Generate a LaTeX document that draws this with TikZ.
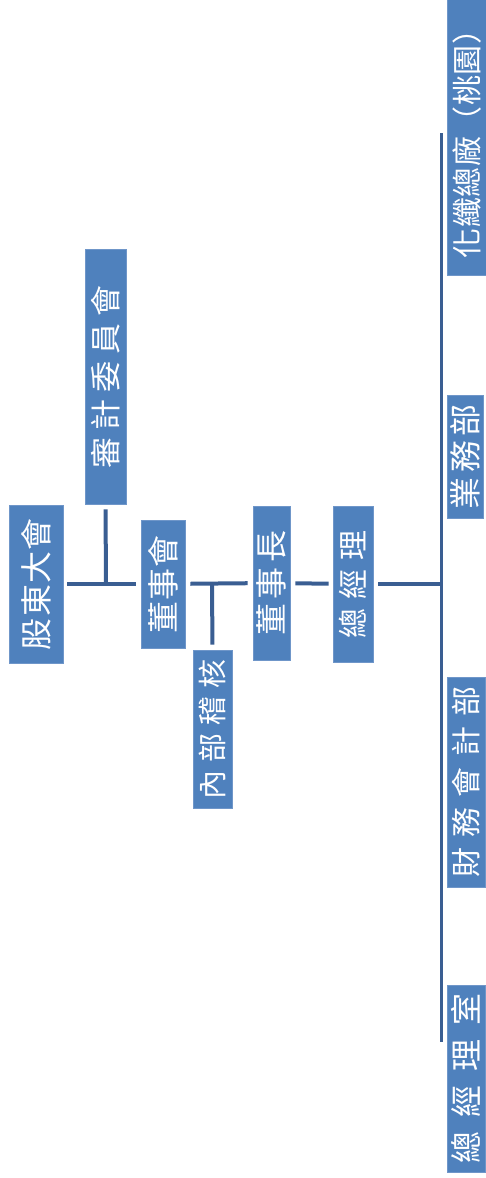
\documentclass[tikz,border=0pt]{standalone}
\usepackage{fontspec}
\usepackage{graphicx}
\newfontfamily\cjk{Noto Sans CJK TC}
\definecolor{boxblue}{HTML}{4F81BD}
\definecolor{boxedge}{HTML}{6F96C9}
\definecolor{linkblue}{HTML}{3A5E92}
% vertical label: font size, spread length, characters separated by \hfill
\newcommand\vlabel[3]{\rotatebox{90}{\fontsize{#1}{#1}\selectfont\cjk\makebox[#2]{#3}}}
\tikzset{
  unit/.style={draw=boxedge, line width=0.8pt, fill=boxblue, text=white, inner sep=0pt},
  link/.style={draw=linkblue, line width=4pt},
  bus/.style={draw=linkblue, line width=3pt},
}
\begin{document}
\begin{tikzpicture}[x=1pt,y=-1pt]
\useasboundingbox[fill=white] (0,0) rectangle (485,1178);

% governance chain
\node[unit, minimum width=54pt, minimum height=158pt] (gd) at (36,584)
  {\vlabel{32pt}{132pt}{股\hfill 東\hfill 大\hfill 會}};
\node[unit, minimum width=41pt, minimum height=255pt] (audit) at (105.5,376.5)
  {\vlabel{31pt}{183pt}{審\hfill 計\hfill 委\hfill 員\hfill 會}};
\node[unit, minimum width=44pt, minimum height=128pt] (board) at (163,584)
  {\vlabel{32pt}{98pt}{董\hfill 事\hfill 會}};
\node[unit, minimum width=39pt, minimum height=158pt] (internal) at (212.5,729)
  {\vlabel{29pt}{140pt}{內\hfill 部\hfill 稽\hfill 核}};
\node[unit, minimum width=37pt, minimum height=154pt] (chair) at (271.5,583)
  {\vlabel{32pt}{105pt}{董\hfill 事\hfill 長}};
\node[unit, minimum width=40pt, minimum height=156pt] (gm) at (353,584)
  {\vlabel{30pt}{108pt}{總\hfill 經\hfill 理}};

% departments beside the bus
\node[unit, minimum width=40pt, minimum height=277pt] (plant) at (467,136.5)
  {\vlabel{30pt}{244pt}{化\hfill 纖\hfill 總\hfill 廠\hfill （\hfill 桃\hfill 園\hfill ）}};
\node[unit, minimum width=36pt, minimum height=123pt] (sales) at (465,456.5)
  {\vlabel{32pt}{105pt}{業\hfill 務\hfill 部}};
\node[unit, minimum width=38pt, minimum height=210pt] (fin) at (466,782)
  {\vlabel{30pt}{191pt}{財\hfill 務\hfill 會\hfill 計\hfill 部}};
\node[unit, minimum width=38pt, minimum height=187pt] (gmo) at (466,1078.5)
  {\vlabel{32pt}{170pt}{總\hfill 經\hfill 理\hfill 室}};

% junction points
\coordinate (j1) at (106,584);
\coordinate (j2) at (212,584);
\coordinate (jb) at (441,584);
\coordinate (bt) at (441,133);
\coordinate (bb) at (441,1042);

% connectors
\draw[link, shorten <=4pt, shorten >=5pt] (gd) -- (board);
\draw[link, shorten <=5pt] (audit.south) -- (j1);
\draw[link, shorten <=5pt, shorten >=5pt] (board) -- (chair);
\draw[link, shorten >=5pt] (j2) -- (internal.north);
\draw[link, shorten <=5pt, shorten >=4pt] (chair) -- (gm);
\draw[link, shorten <=5pt] (gm.east) -- (jb);
\draw[bus] (bt) -- (bb);
\end{tikzpicture}
\end{document}
